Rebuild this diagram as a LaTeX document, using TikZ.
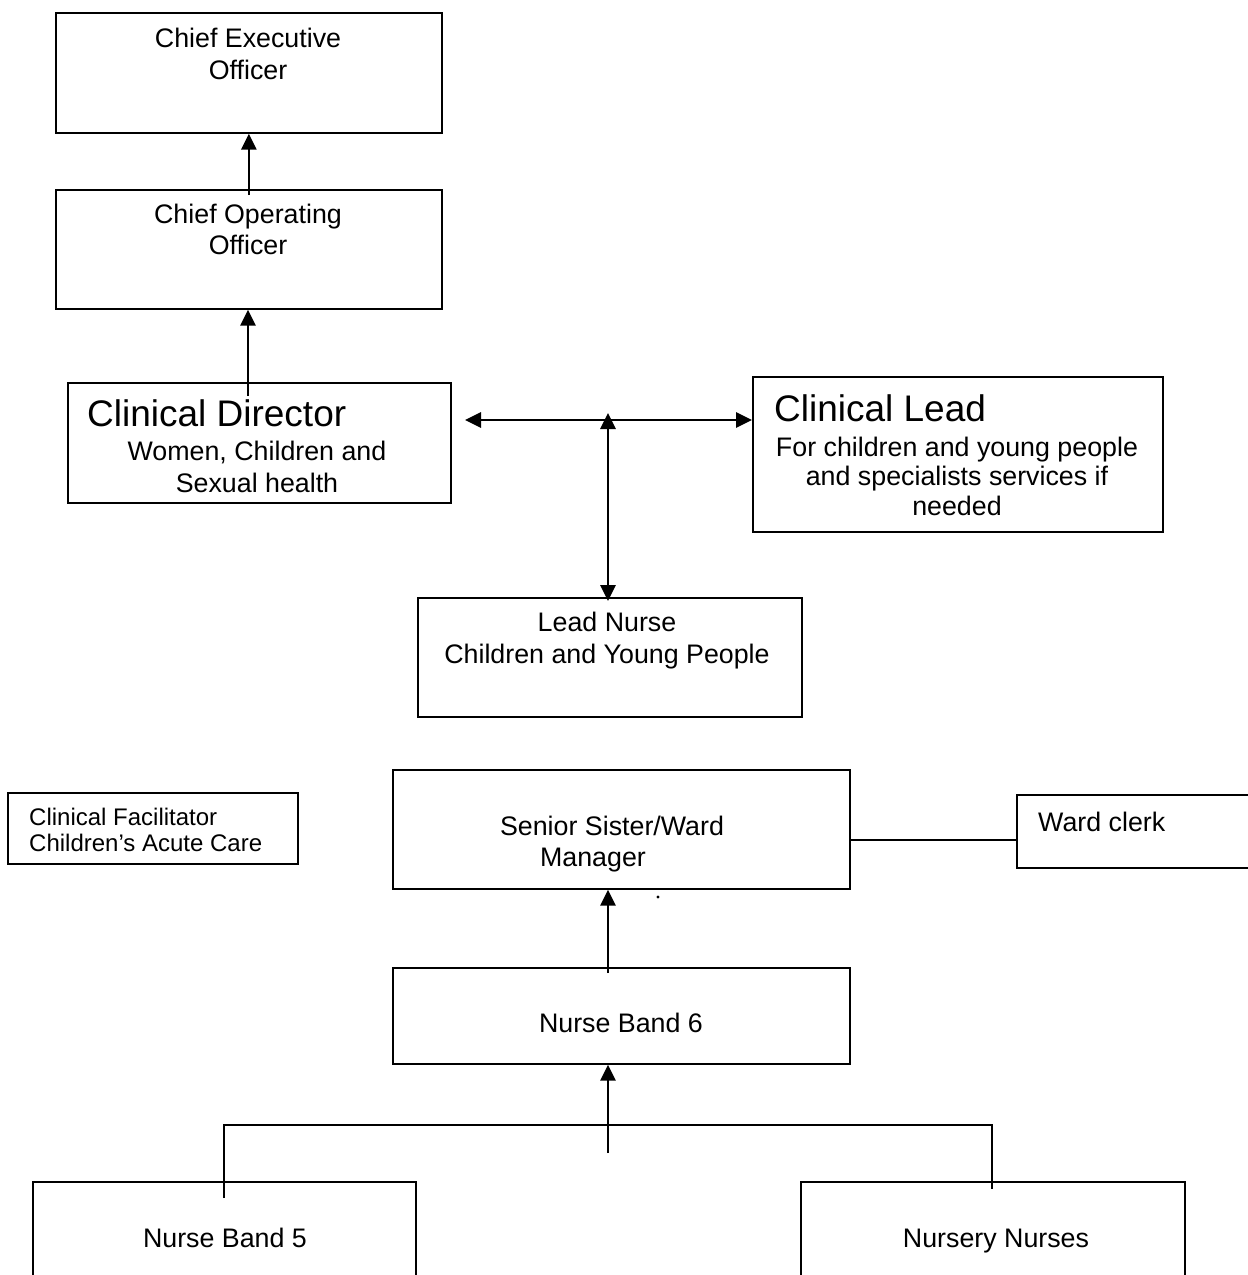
\documentclass[tikz,border=0pt]{standalone}
\usepackage{fontspec}
\setmainfont{Liberation Sans}
\usetikzlibrary{arrows.meta,calc}
\begin{document}
\begin{tikzpicture}[x=1pt,y=-1pt,
  box/.style={draw=black,line width=1.7pt,inner sep=0pt,anchor=north west},
  txt/.style={inner sep=0pt,align=center,font=\fontsize{26.8}{31.5}\selectfont},
  oneline/.style={text height=19.4pt,text depth=0pt},
  big/.style={inner sep=0pt,anchor=west,font=\fontsize{37}{40}\selectfont},
  arr/.style={line width=2.7pt,-{Triangle[length=16pt,width=15pt]}},
  darr/.style={line width=2.7pt,{Triangle[length=16pt,width=15pt]}-{Triangle[length=16pt,width=15pt]}},
  conn/.style={line width=1.5pt}]
\useasboundingbox (0,0) rectangle (1248,1275);
\fill[white] (0,0) rectangle (1248,1275);
% boxes
\node[box,minimum width=386pt,minimum height=120pt] (ceo) at (55,12) {};
\node[box,minimum width=386pt,minimum height=119pt] (coo) at (55,189) {};
\node[box,minimum width=383pt,minimum height=120pt] (cd) at (67,382) {};
\node[box,minimum width=410pt,minimum height=155pt] (cl) at (752,376) {};
\node[box,minimum width=384pt,minimum height=119pt] (ln) at (417,597) {};
\node[box,minimum width=290pt,minimum height=71pt] (cf) at (7,792) {};
\node[box,minimum width=457pt,minimum height=119pt] (ss) at (392,769) {};
\node[box,minimum width=260pt,minimum height=73pt] (wc) at (1016,794) {};
\node[box,minimum width=457pt,minimum height=96pt] (nb6) at (392,967) {};
\node[box,minimum width=383pt,minimum height=140pt] (nb5) at (32,1181) {};
\node[box,minimum width=384pt,minimum height=140pt] (nn) at (800,1181) {};
% texts
\node[txt] (ceoT) at (248,54) {Chief Executive\\Officer};
\node[txt] (cooT) at (248,229.5) {Chief Operating\\Officer};
\node[big] (cdT) at (87,413) {Clinical Director};
\node[txt] (cdT2) at (257,467) {Women, Children and\\Sexual health};
\node[big] (clT) at (774,408) {Clinical Lead};
\node[txt,font=\fontsize{26.8}{29.5}\selectfont] (clT2) at (957,476) {For children and young people\\and specialists services if\\needed};
\node[txt] (lnT) at (607,640.5) {Lead Nurse\\Children and Young People};
\node[txt,anchor=west,align=left,font=\fontsize{24}{26}\selectfont] (cfT) at (29,830) {Clinical Facilitator\\Children’s Acute Care};
\node[txt,oneline] (ssT1) at (612,826) {Senior Sister/Ward};
\node[txt,oneline] (ssT2) at (593,857) {Manager};
\node[txt,oneline,anchor=west] (wcT) at (1038,822) {Ward clerk};
\node[txt,oneline] (nb6T) at (621,1023) {Nurse Band 6};
\node[txt,oneline] (nb5T) at (225,1238) {Nurse Band 5};
\node[txt,oneline] (nnT) at (996,1238) {Nursery Nurses};
\fill (658,897) circle (1.6pt);
% connectors
\draw[arr] ($(coo.north)+(0,6)$) -- (ceo.south);
\coordinate (a2) at (248,396);
\draw[arr] (a2) -- (a2 |- coo.south);
\coordinate (hL) at (465,420);
\draw[darr] (hL) -- (hL -| cl.west);
\coordinate (vT) at (608,413);
\draw[darr] (vT) -- ($(vT |- ln.north)+(0,4)$);
\coordinate (wcL) at (849,840);
\draw[conn] (wcL) -- (wcL -| wc.west);
\coordinate (a6) at (608,973);
\draw[arr] (a6) -- (a6 |- ss.south);
\coordinate (bt) at (608,1153);
\draw[arr] (bt) -- (bt |- nb6.south);
\coordinate (bj) at (608,1125);
\coordinate (b5) at (224,1198);
\coordinate (bn) at (992,1189);
\draw[conn] (b5) |- (bj) -| (bn);
\end{tikzpicture}
\end{document}
